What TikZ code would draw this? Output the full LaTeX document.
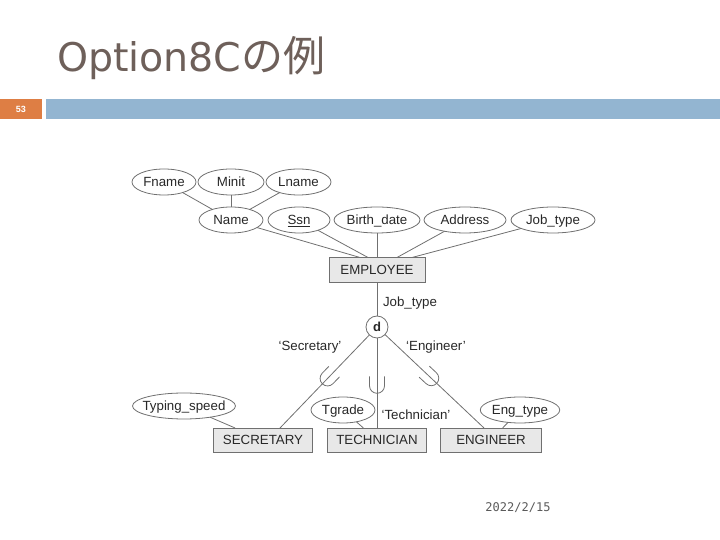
\documentclass[tikz,border=0pt]{standalone}
\usepackage{fontspec}
\setmainfont{Liberation Sans}
\newfontfamily\jpfont{Noto Sans CJK JP}
\newfontfamily\titlefont{DejaVu Sans}
\newfontfamily\datefont{DejaVu Sans Mono}
\usepackage{tikz}
\usetikzlibrary{positioning}
\usetikzlibrary{shapes}
\definecolor{titlegray}{RGB}{110,96,90}
\definecolor{barorange}{RGB}{222,126,68}
\definecolor{barblue}{RGB}{147,181,209}
\definecolor{linegray}{RGB}{112,112,112}
\definecolor{boxfill}{RGB}{232,232,232}
\definecolor{textdark}{RGB}{40,40,40}
\definecolor{dategray}{RGB}{90,90,90}
\tikzset{cup/.pic={\draw[linegray,line width=0.8pt] (-7.5pt,8.5pt) -- (-7.5pt,-1pt) arc[start angle=180,end angle=360,radius=7.5pt] -- (7.5pt,8.5pt);}}

\begin{document}
\begin{tikzpicture}[x=1pt,y=1pt,node distance=4pt,
    every node/.style={inner sep=1pt,outer sep=0pt,font=\fontsize{13.3}{15}\selectfont,text=textdark},
    attr/.style={ellipse,draw=linegray,fill=white,line width=0.8pt,minimum height=26pt,inner sep=0pt,text height=10pt,text depth=0.5pt},
    ent/.style={rectangle,draw=linegray,fill=boxfill,line width=0.8pt,minimum height=24pt,minimum width=99pt,text height=9.5pt,text depth=0pt},
    conn/.style={draw=linegray,line width=0.8pt}]
	\useasboundingbox (0,0) rectangle (720,540);
	% header
	\node (title) [anchor=base west,text=titlegray] at (56,468) {{\titlefont\fontsize{39.5}{42}\selectfont Option8C}{\jpfont\fontsize{42}{44}\selectfont の例}};
	\node (pagenum) [anchor=south west,fill=barorange,minimum width=42pt,minimum height=20pt,text=white,font=\bfseries\fontsize{9}{10}\selectfont] at (0,421) {53};
	\fill[barblue] (46,421) rectangle (720,441);
	\node (date) [text=dategray,font=\datefont\fontsize{12}{14}\selectfont] at (518,32) {2022/2/15};
	% superclass and attributes
	\node[ent,minimum width=96pt,minimum height=25pt] (emp) at (377,270) {EMPLOYEE};
	\node[attr,minimum width=86pt] (birth) at (377,320) {Birth\_date};
	\node[attr,minimum width=62pt,left=4pt of birth] (ssn) {\underline{Ssn}};
	\node[attr,minimum width=64pt,left=5pt of ssn] (name) {Name};
	\node[attr,minimum width=82pt,right=4pt of birth] (address) {Address};
	\node[attr,minimum width=84pt,right=5pt of address] (jobtype) {Job\_type};
	\node[attr,minimum width=66pt,above=12pt of name] (minit) {Minit};
	\node[attr,minimum width=64pt,left=2pt of minit] (fname) {Fname};
	\node[attr,minimum width=65pt,right=2pt of minit] (lname) {Lname};
	% specialization
	\node[circle,draw=linegray,fill=white,line width=0.8pt,minimum size=22pt,inner sep=0pt,font=\bfseries\fontsize{13}{15}\selectfont] (d) at (377,213) {d};
	\node (jtlabel) at (410,237) {Job\_type};
	\node (seclabel) at (310,193) {`Secretary'};
	\node (englabel) at (436,193) {`Engineer'};
	\node (techlabel) at (416,125) {`Technician'};
	% subclasses
	\node[ent] (tech) at (377,100) {TECHNICIAN};
	\node[ent,left=15pt of tech] (sec) {SECRETARY};
	\node[ent,minimum width=101pt,right=14pt of tech] (eng) {ENGINEER};
	\node[attr,minimum width=102pt,inner xsep=-5pt] (tspeed) at (184,134) {Typing\_speed};
	\node[attr,minimum width=64pt] (tgrade) at (343,130) {Tgrade};
	\node[attr,minimum width=77pt] (engtype) at (520,130) {Eng\_type};
    \path[conn]
        (fname) edge (name)
        (minit) edge (name)
        (lname) edge (name)
        (name) edge ([xshift=-17pt]emp.north)
        (ssn) edge ([xshift=-9pt]emp.north)
        (birth) edge (emp)
        (address) edge ([xshift=20pt]emp.north)
        (jobtype) edge ([xshift=35pt]emp.north)
        (emp) edge (d)
        (tspeed) edge (sec)
        (tgrade) edge (tech)
        (engtype) edge (eng);
	\draw[conn] (d) -- coordinate[pos=.46] (cupsec) ([xshift=17pt]sec.north);
	\draw[conn] (d) -- coordinate[pos=.52] (cuptech) (tech);
	\draw[conn] (d) -- coordinate[pos=.46] (cupeng) ([xshift=-7pt]eng.north);
	\pic[rotate=-44] at (cupsec) {cup};
	\pic at (cuptech) {cup};
	\pic[rotate=47] at (cupeng) {cup};
\end{tikzpicture}
\end{document}
